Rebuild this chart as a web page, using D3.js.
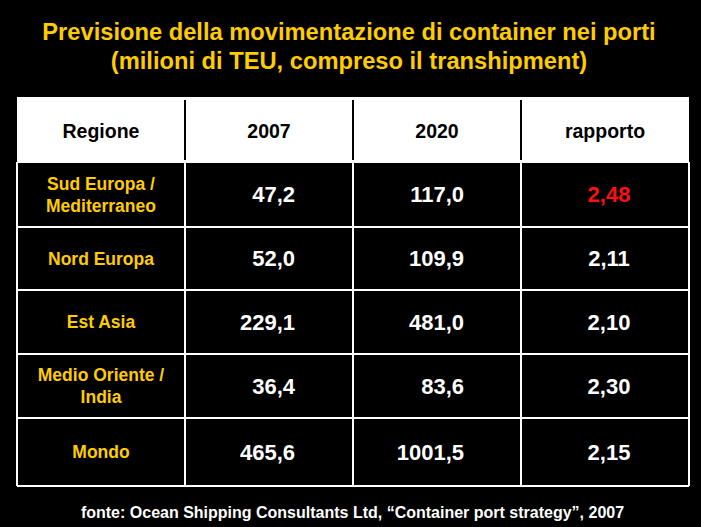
<!DOCTYPE html>
<html>
<head>
<meta charset="utf-8">
<script src="https://cdn.jsdelivr.net/npm/d3@7"></script>
<style>
  html, body { margin: 0; padding: 0; background: #000; }
  svg { display: block; }
  text { font-family: "Liberation Sans", Arial, sans-serif; font-weight: bold; }
</style>
</head>
<body>
<svg id="chart" width="701" height="527"></svg>
<script>
const titleLines = ["Previsione della movimentazione di container nei porti",
                    "(milioni di TEU, compreso il transhipment)"];
const headers = ["Regione", "2007", "2020", "rapporto"];
const regions = [["Sud Europa /", "Mediterraneo"], ["Nord Europa"], ["Est Asia"],
                 ["Medio Oriente /", "India"], ["Mondo"]];
const values2007 = ["47,2", "52,0", "229,1", "36,4", "465,6"];
const values2020 = ["117,0", "109,9", "481,0", "83,6", "1001,5"];
const ratios = ["2,48", "2,11", "2,10", "2,30", "2,15"];
const highlightRatio = [true, false, false, false, false];
const source = "fonte: Ocean Shipping Consultants Ltd, \u201cContainer port strategy\u201d, 2007";

const svg = d3.select("#chart");
const W = 701, H = 527;
svg.append("rect").attr("width", W).attr("height", H).attr("fill", "#000");

const yellow = "#FFCC00";

// title
svg.selectAll("text.title").data(titleLines).join("text")
  .attr("class", "title")
  .attr("x", 349).attr("y", (d, i) => 39.5 + i * 29.5)
  .attr("text-anchor", "middle").attr("font-size", 23.7)
  .attr("fill", yellow).text(d => d);

// table geometry
const colEdges = [17, 185, 353, 521, 689];
const rowEdges = [98, 162, 227, 290, 354, 418, 486];

// header background
svg.append("rect").attr("x", colEdges[0]).attr("y", rowEdges[0])
  .attr("width", colEdges[4] - colEdges[0]).attr("height", rowEdges[1] - rowEdges[0])
  .attr("fill", "#fff");

const g = svg.append("g");
g.selectAll("line.h").data(rowEdges).join("line")
  .attr("x1", colEdges[0]).attr("x2", colEdges[4])
  .attr("y1", d => d).attr("y2", d => d)
  .attr("stroke", "#fff").attr("stroke-width", 2);
g.selectAll("line.vb").data(colEdges).join("line")
  .attr("x1", d => d).attr("x2", d => d)
  .attr("y1", rowEdges[1]).attr("y2", rowEdges[6])
  .attr("stroke", "#fff").attr("stroke-width", 2);
g.selectAll("line.vh").data(colEdges.slice(1, 4)).join("line")
  .attr("x1", d => d).attr("x2", d => d)
  .attr("y1", rowEdges[0] + 2).attr("y2", rowEdges[1] - 2)
  .attr("stroke", "#000").attr("stroke-width", 2);

const colCenter = i => (colEdges[i] + colEdges[i + 1]) / 2;
svg.selectAll("text.hdr").data(headers).join("text")
  .attr("class", "hdr")
  .attr("x", (d, i) => colCenter(i)).attr("y", (rowEdges[0] + rowEdges[1]) / 2 + 7.5)
  .attr("text-anchor", "middle").attr("font-size", 19.5).attr("fill", "#000")
  .text(d => d);

const rowMid = i => (rowEdges[i + 1] + rowEdges[i + 2]) / 2;

regions.forEach((lines, i) => {
  const t = svg.append("text").attr("text-anchor", "middle")
    .attr("font-size", 17.5).attr("fill", yellow);
  lines.forEach((ln, j) => {
    t.append("tspan").attr("x", colCenter(0))
      .attr("y", rowMid(i) + 6.3 + (j - (lines.length - 1) / 2) * 21.7)
      .text(ln);
  });
});

svg.selectAll("text.v07").data(values2007).join("text")
  .attr("x", 295).attr("y", (d, i) => rowMid(i) + 7.8)
  .attr("text-anchor", "end").attr("font-size", 22).attr("fill", "#fff").text(d => d);
svg.selectAll("text.v20").data(values2020).join("text")
  .attr("x", 464).attr("y", (d, i) => rowMid(i) + 7.8)
  .attr("text-anchor", "end").attr("font-size", 22).attr("fill", "#fff").text(d => d);
svg.selectAll("text.rat").data(ratios).join("text")
  .attr("x", 609).attr("y", (d, i) => rowMid(i) + 7.8)
  .attr("text-anchor", "middle").attr("font-size", 22)
  .attr("fill", (d, i) => highlightRatio[i] ? "#FF1010" : "#fff").text(d => d);

svg.append("text").attr("x", 352.5).attr("y", 518)
  .attr("text-anchor", "middle").attr("font-size", 16).attr("fill", "#fff").text(source);
</script>
</body>
</html>
